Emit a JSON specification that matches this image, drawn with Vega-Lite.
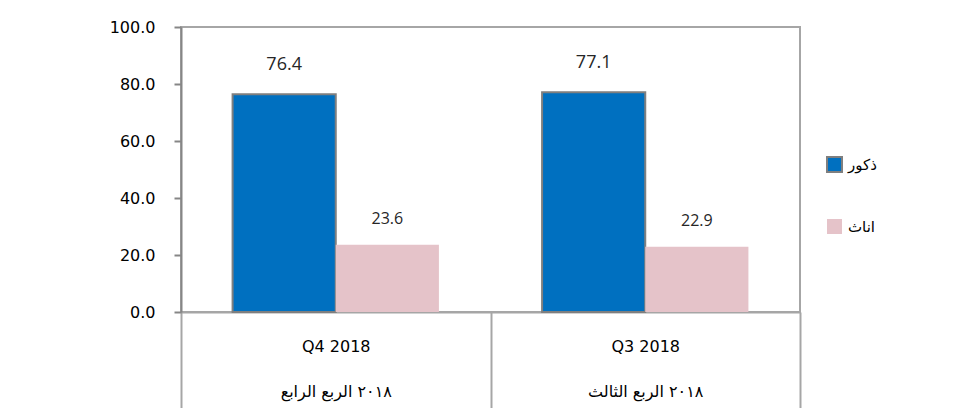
{
  "$schema": "https://vega.github.io/schema/vega-lite/v6.json",
  "width": 619,
  "height": 285,
  "autosize": {"type": "none"},
  "padding": {"left": 181, "top": 27, "right": 170, "bottom": 96},
  "background": "white",
  "config": {
    "view": {"stroke": "#a6a6a6", "strokeWidth": 2}
  },
  "data": {
    "values": [
      {"quarter": "Q4 2018|٢٠١٨ الربع الرابع", "gender": "ذكور", "value": 76.4},
      {"quarter": "Q4 2018|٢٠١٨ الربع الرابع", "gender": "اناث", "value": 23.6},
      {"quarter": "Q3 2018|٢٠١٨ الربع الثالث", "gender": "ذكور", "value": 77.1},
      {"quarter": "Q3 2018|٢٠١٨ الربع الثالث", "gender": "اناث", "value": 22.9}
    ]
  },
  "encoding": {
    "x": {
      "field": "quarter",
      "type": "nominal",
      "title": null,
      "scale": {"domain": ["Q4 2018|٢٠١٨ الربع الرابع", "Q3 2018|٢٠١٨ الربع الثالث"], "paddingInner": 0, "paddingOuter": 0},
      "axis": {
        "tickBand": "extent",
        "tickSize": 96,
        "tickColor": "#a6a6a6",
        "tickWidth": 2,
        "domainColor": "#a6a6a6",
        "domainWidth": 2,
        "labelExpr": "split(datum.label, '|')",
        "labelFont": "DejaVu Sans",
        "labelFontSize": 16,
        "labelColor": "#000000",
        "labelLineHeight": 45,
        "labelPadding": -70,
        "labelBaseline": "top",
        "labelAngle": 0
      }
    },
    "xOffset": {
      "field": "gender",
      "type": "nominal",
      "scale": {"domain": ["ذكور", "اناث"], "paddingInner": 0, "paddingOuter": 0.5}
    },
    "y": {
      "field": "value",
      "type": "quantitative",
      "title": null,
      "scale": {"domain": [0, 100]},
      "axis": {
        "values": [0, 20, 40, 60, 80, 100],
        "format": ".1f",
        "grid": false,
        "tickSize": 7,
        "tickColor": "#868686",
        "tickWidth": 2,
        "domainColor": "#868686",
        "domainWidth": 2,
        "labelFont": "DejaVu Sans",
        "labelFontSize": 16,
        "labelColor": "#000000",
        "labelPadding": 19
      }
    }
  },
  "layer": [
    {
      "mark": {"type": "bar", "strokeWidth": 2},
      "encoding": {
        "fill": {
          "field": "gender",
          "type": "nominal",
          "scale": {"domain": ["ذكور", "اناث"], "range": ["#0070c0", "#e5c3c9"]},
          "legend": {
            "orient": "none",
            "legendX": 645,
            "legendY": 129,
            "title": null,
            "symbolType": "square",
            "symbolSize": 225,
            "symbolStrokeWidth": 2,
            "labelFont": "DejaVu Sans",
            "labelFontSize": 15,
            "labelColor": "#000000",
            "labelOffset": 5,
            "rowPadding": 39,
            "padding": 0
          }
        },
        "stroke": {
          "field": "gender",
          "type": "nominal",
          "scale": {"domain": ["ذكور", "اناث"], "range": ["#7f7f7f", "transparent"]},
          "legend": {
            "orient": "none",
            "legendX": 645,
            "legendY": 129,
            "title": null,
            "symbolType": "square",
            "symbolSize": 225,
            "symbolStrokeWidth": 2,
            "labelFont": "DejaVu Sans",
            "labelFontSize": 15,
            "labelColor": "#000000",
            "labelOffset": 5,
            "rowPadding": 39,
            "padding": 0
          }
        }
      }
    },
    {
      "transform": [{"filter": "datum.gender === 'ذكور'"}],
      "mark": {"type": "text", "baseline": "bottom", "dy": -20, "font": "Open Sans", "fontSize": 18, "color": "#262626"},
      "encoding": {
        "text": {"field": "value", "type": "quantitative", "format": ".1f"}
      }
    },
    {
      "transform": [{"filter": "datum.gender === 'اناث'"}],
      "mark": {"type": "text", "baseline": "bottom", "dy": -18, "font": "Open Sans", "fontSize": 16, "color": "#262626"},
      "encoding": {
        "text": {"field": "value", "type": "quantitative", "format": ".1f"}
      }
    }
  ]
}
